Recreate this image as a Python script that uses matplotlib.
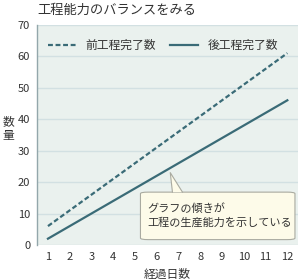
import numpy as np
import matplotlib
matplotlib.use("Agg")
import matplotlib.pyplot as plt
from matplotlib.patches import FancyBboxPatch, Polygon

plt.rcParams["font.family"] = ["Noto Sans CJK JP", "DejaVu Sans"]

# ── data ──────────────────────────────────────────────────────────────────────
days = np.arange(1, 13)
prev_done = [6, 11, 16, 21, 26, 31, 36, 41, 46, 51, 56, 61]   # 前工程完了数
next_done = [2, 6, 10, 14, 18, 22, 26, 30, 34, 38, 42, 46]    # 後工程完了数
y_ticks = [0, 10, 20, 30, 40, 50, 60, 70]

LINE = "#3a6b77"
BG = "#eaf1ee"
GRID = "#d2e0e2"
TXT = "#333333"

fig = plt.figure(figsize=(3.04, 2.79), dpi=100)
ax = fig.add_axes([0.122, 0.122, 0.859, 0.789])
ax.set_facecolor(BG)

ax.plot(days, prev_done, color=LINE, lw=1.6, ls=(0, (2.2, 1.2)), label="前工程完了数")
ax.plot(days, next_done, color=LINE, lw=1.6, label="後工程完了数")

ax.set_xlim(0.5, 12.5)
ax.set_ylim(0, 70)
ax.set_xticks(days)
ax.set_yticks(y_ticks)
ax.tick_params(length=0, labelsize=8, colors=TXT, pad=5)
ax.grid(axis="y", color=GRID, lw=1)
ax.set_axisbelow(True)
for s in ["top", "right", "bottom"]:
    ax.spines[s].set_visible(False)
ax.spines["left"].set_color("#93a7ab")
ax.spines["left"].set_linewidth(1)

ax.legend(loc="upper left", bbox_to_anchor=(0.0, 0.985), ncol=2, frameon=False,
          fontsize=8.5, handlelength=2.4, columnspacing=1.2, handletextpad=0.8,
          labelcolor=TXT)

ax.set_xlabel("経過日数", fontsize=8.5, color=TXT, labelpad=4)
fig.text(0.028, 0.565, "数", fontsize=8.5, color=TXT, ha="center", va="center")
fig.text(0.028, 0.515, "量", fontsize=8.5, color=TXT, ha="center", va="center")
fig.text(0.122, 0.963, "工程能力のバランスをみる", fontsize=9.5, color=TXT,
         ha="left", va="center")

# callout
box_fc = "#fdfbe9"
box_ec = "#a9aaa0"
box = FancyBboxPatch((5.25, 1.7), 7.1, 15.1,
                     boxstyle="round,pad=0,rounding_size=0.35",
                     mutation_aspect=1.4, fc=box_fc, ec=box_ec, lw=0.8, zorder=4)
ax.add_patch(box)
tip = [(6.72, 16.8), (6.62, 23), (7.18, 16.8)]
ax.add_patch(Polygon(tip, closed=False, fc=box_fc, ec="none", zorder=5))
ax.plot([6.72, 6.62, 7.18], [16.8, 23, 16.8], color=box_ec, lw=0.8, zorder=6)
ax.text(5.55, 9.4, "グラフの傾きが\n工程の生産能力を示している", fontsize=8,
        color=TXT, ha="left", va="center", linespacing=1.3, zorder=7)

fig.savefig("out.png", dpi=100)
